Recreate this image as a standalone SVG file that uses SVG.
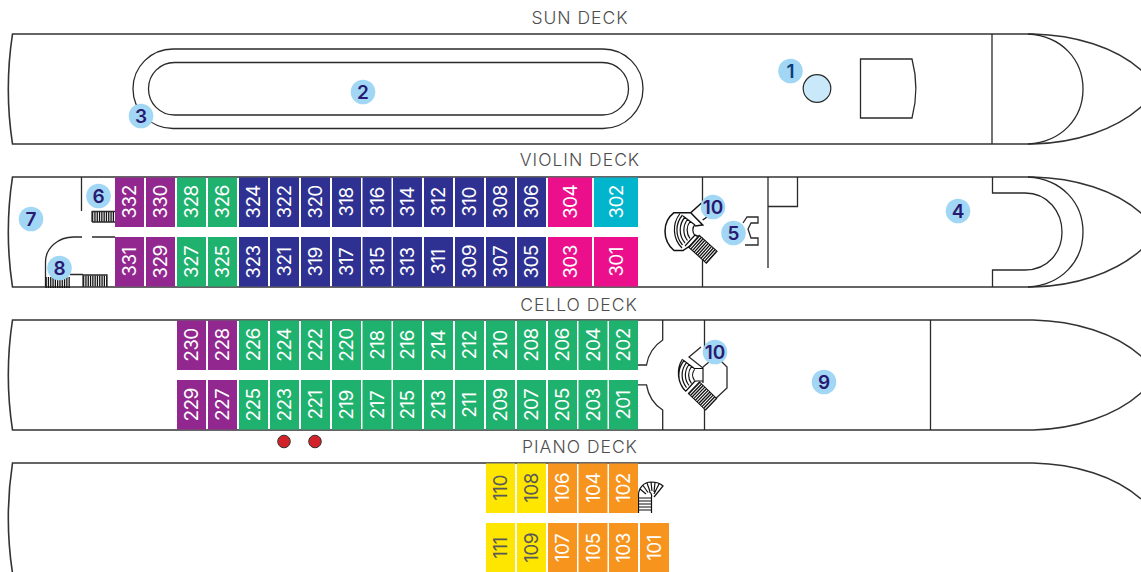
<svg xmlns="http://www.w3.org/2000/svg" width="1141" height="572" viewBox="0 0 1141 572">
<style>
.l{fill:none;stroke:#2a2a2a;stroke-width:1.3}
.h{fill:none;stroke:#333;stroke-width:1.6}
.dk{font-family:Inter,"Liberation Sans",sans-serif;font-size:17.500px;font-weight:300;letter-spacing:1px;fill:#4d4d4d;text-anchor:middle}
.c{font-family:Inter,"Liberation Sans",sans-serif;font-size:19px;letter-spacing:-.6px;font-weight:400;fill:#fff;text-anchor:middle;dominant-baseline:central}
.y{fill:#58595b}
.b circle{fill:#a1d7f5}
.b text{font-family:Inter,"Liberation Sans",sans-serif;font-size:19px;font-weight:600;fill:#281a70;text-anchor:middle;dominant-baseline:central}
.pu{fill:#92278f}.gr{fill:#1fb16e}.nv{fill:#2e3192}.pk{fill:#ec0f8c}.te{fill:#00b5cc}.or{fill:#f7941e}.ye{fill:#ffe600}
.st{fill:none;stroke:#111;stroke-dasharray:1.3 1}
.f{fill:none;stroke:#111;stroke-width:1.2}
</style>
<rect width="1141" height="572" fill="#fff"/>
<g id="deck-labels">
<text class="dk" x="580" y="24">SUN DECK</text>
<text class="dk" x="580" y="166">VIOLIN DECK</text>
<text class="dk" x="579" y="311">CELLO DECK</text>
<text class="dk" x="580" y="453">PIANO DECK</text>
</g>
<g id="sun-deck">
<path class="h" d="M1033 34H12.500C7 70 7 108 12.500 144H1033C1075 143 1115 130 1141 107C1146 101 1150 96 1152 89C1150 82 1146 76 1141 70C1115 47 1075 35 1033 34Z"/>
<path class="l" d="M992 34V144M1028 34C1062 36 1083 60 1083 89C1083 118 1062 142 1028 144"/>
<rect class="l" x="133" y="49" width="510" height="79.500" rx="40"/>
<rect class="l" x="148.500" y="62.500" width="480" height="52.500" rx="26"/>
<circle cx="817" cy="88.500" r="13.800" fill="#c9e9fa" stroke="#2a2a2a" stroke-width="1.2"/>
<path class="l" d="M860.500 59H912C917 78 917 99 912 118H860.500Z"/>
</g>
<g id="violin-deck">
<path class="h" d="M1033 177H12.500C7 213 7 251 12.500 287H1033C1075 286 1115 273 1141 250C1146 244 1150 239 1152 232C1150 225 1146 219 1141 213C1115 190 1075 178 1033 177Z"/>
<path class="l" d="M1028 177C1062 179 1083 203 1083 232C1083 261 1062 285 1028 287"/>
<path class="l" d="M992.500 177V193H1025C1048 193 1062 212 1062 232C1062 252 1048 270 1025 270H992.500V287"/>
<path class="l" d="M81.500 177V211M115 237H92M82 237H74C58 237 45.500 248 45.500 262V287M70 274.500H83"/>
<path class="st" stroke-width="11" d="M92 216.500H115M45.500 282.500H70M83 281H107"/>
<path class="l" d="M92 211.500H115M92 222H115M92 211V222M83 275H107V287M83 275V287"/>
<path class="l" d="M702.500 177V203M702.500 260V287M768 177V268M768 206.500H797.500V177"/>
<path fill="none" stroke="#111" stroke-width="1.500" d="M701.500 203L690.700 212.700H674C662 222 662 240 674 250.500H683L701.500 238L695 235M690.700 212.700L702.700 225L695 226M702.700 220L710 215"/>
<path class="f" d="M695 224.500A8 8 0 0 0 695 235.500M690 221.500A14 14 0 0 0 690 238.500M687.500 219.500A17 17 0 0 0 687.500 240.500M685 217A20 20 0 0 0 685 243M682.500 215A23 23 0 0 0 682.500 245M680 213.500A26 26 0 0 0 682 248M683 216L695 225M685 246L695 235"/>
<g transform="translate(702.800 249.200) rotate(42)"><rect x="-12" y="-8" width="24" height="16" fill="#fff" stroke="#111" stroke-width="1"/><path class="st" stroke-width="16" d="M-12 0H12"/></g>
<path class="l" d="M743 223L747 217H758V223H751L748 229L751 238H758V245H745"/>
</g>
<g id="cello-deck">
<path class="h" d="M1033 320H12.500C7 356 7 394 12.500 430H1033C1075 429 1115 416 1141 393C1146 387 1150 382 1152 375C1150 368 1146 362 1141 356C1115 333 1075 321 1033 320Z"/>
<path class="l" d="M930.500 320V430"/>
<path class="l" d="M662.700 320V340C652 347 648 356 646.500 365H637.700M637.700 384.800H646.500C648 394 652 403 662.700 410V430"/>
<path class="l" d="M704.500 320V347M701 347L689 357L703 368V383M703 367L709 362M720 360L727 367V388L704.500 409V430"/>
<path class="f" d="M694.500 369.500A9 9 0 0 0 694.500 380.500M691.500 366.500A14 14 0 0 0 691.500 383.500M689 364.500A17 17 0 0 0 689 385.500M686.500 362.500A20 20 0 0 0 686.500 387.500M684 360.500A23 23 0 0 0 684 389.500M682.500 359A26 26 0 0 0 686 391.500M683 360L695 369M686 391L695 381M695 368.500H703M695 381H703"/>
<g transform="translate(702.500 396) rotate(44)"><rect x="-12" y="-8" width="24" height="16" fill="#fff" stroke="#111" stroke-width="1"/><path class="st" stroke-width="16" d="M-12 0H12"/></g>
</g>
<g id="piano-deck">
<path class="h" d="M12.500 573C7 537 7 499 12.500 463H1033C1075 464 1115 476 1141 499"/>
<path class="f" d="M638.500 513V495C638.500 488 644 482 651 482C656 482 660 483 663 486L654 497M651.500 513V497A5 5 0 0 0 649 491.500M638.500 498H651.500M638.500 501H651.500M638.500 504H651.500M638.500 507H651.500M638.500 510H651.500M640 489L646 494M643 485.500L648 492.500M647 483L650 491.500M651 482L652 491M655 482.500L654 492M659 484L654 494"/>
</g>
<g id="markers">
<circle cx="284" cy="441.500" r="6.300" fill="#d2232a" stroke="#333" stroke-width="1"/>
<circle cx="315" cy="441.500" r="6.300" fill="#d2232a" stroke="#333" stroke-width="1"/>
</g>
<g id="violin-cabins">
<g id="c332"><rect class="pu" x="115" y="177.500" width="29" height="49.500"/><text class="c" transform="translate(129.500 202) rotate(-90)">332</text></g>
<g id="c330"><rect class="pu" x="146" y="177.500" width="29" height="49.500"/><text class="c" transform="translate(160.500 202) rotate(-90)">330</text></g>
<g id="c328"><rect class="gr" x="177" y="177.500" width="29" height="49.500"/><text class="c" transform="translate(191.500 202) rotate(-90)">328</text></g>
<g id="c326"><rect class="gr" x="208" y="177.500" width="29" height="49.500"/><text class="c" transform="translate(222.500 202) rotate(-90)">326</text></g>
<g id="c324"><rect class="nv" x="239" y="177.500" width="29" height="49.500"/><text class="c" transform="translate(253.500 202) rotate(-90)">324</text></g>
<g id="c322"><rect class="nv" x="270" y="177.500" width="29" height="49.500"/><text class="c" transform="translate(284.500 202) rotate(-90)">322</text></g>
<g id="c320"><rect class="nv" x="301" y="177.500" width="29" height="49.500"/><text class="c" transform="translate(315.500 202) rotate(-90)">320</text></g>
<g id="c318"><rect class="nv" x="332" y="177.500" width="29" height="49.500"/><text class="c" transform="translate(346.500 202) rotate(-90)">318</text></g>
<g id="c316"><rect class="nv" x="362.500" y="177.500" width="29" height="49.500"/><text class="c" transform="translate(377 202) rotate(-90)">316</text></g>
<g id="c314"><rect class="nv" x="393" y="177.500" width="29" height="49.500"/><text class="c" transform="translate(407.500 202) rotate(-90)">314</text></g>
<g id="c312"><rect class="nv" x="424" y="177.500" width="29" height="49.500"/><text class="c" transform="translate(438.500 202) rotate(-90)">312</text></g>
<g id="c310"><rect class="nv" x="455" y="177.500" width="29" height="49.500"/><text class="c" transform="translate(469.500 202) rotate(-90)">310</text></g>
<g id="c308"><rect class="nv" x="486" y="177.500" width="29" height="49.500"/><text class="c" transform="translate(500.500 202) rotate(-90)">308</text></g>
<g id="c306"><rect class="nv" x="517" y="177.500" width="29" height="49.500"/><text class="c" transform="translate(531.500 202) rotate(-90)">306</text></g>
<g id="c304"><rect class="pk" x="548" y="177.500" width="44" height="49.500"/><text class="c" transform="translate(570 202) rotate(-90)">304</text></g>
<g id="c302"><rect class="te" x="594" y="177.500" width="44" height="49.500"/><text class="c" transform="translate(616 202) rotate(-90)">302</text></g>
<g id="c331"><rect class="pu" x="115" y="237" width="29" height="49.500"/><text class="c" transform="translate(129.500 262) rotate(-90)">331</text></g>
<g id="c329"><rect class="pu" x="146" y="237" width="29" height="49.500"/><text class="c" transform="translate(160.500 262) rotate(-90)">329</text></g>
<g id="c327"><rect class="gr" x="177" y="237" width="29" height="49.500"/><text class="c" transform="translate(191.500 262) rotate(-90)">327</text></g>
<g id="c325"><rect class="gr" x="208" y="237" width="29" height="49.500"/><text class="c" transform="translate(222.500 262) rotate(-90)">325</text></g>
<g id="c323"><rect class="nv" x="239" y="237" width="29" height="49.500"/><text class="c" transform="translate(253.500 262) rotate(-90)">323</text></g>
<g id="c321"><rect class="nv" x="270" y="237" width="29" height="49.500"/><text class="c" transform="translate(284.500 262) rotate(-90)">321</text></g>
<g id="c319"><rect class="nv" x="301" y="237" width="29" height="49.500"/><text class="c" transform="translate(315.500 262) rotate(-90)">319</text></g>
<g id="c317"><rect class="nv" x="332" y="237" width="29" height="49.500"/><text class="c" transform="translate(346.500 262) rotate(-90)">317</text></g>
<g id="c315"><rect class="nv" x="362.500" y="237" width="29" height="49.500"/><text class="c" transform="translate(377 262) rotate(-90)">315</text></g>
<g id="c313"><rect class="nv" x="393" y="237" width="29" height="49.500"/><text class="c" transform="translate(407.500 262) rotate(-90)">313</text></g>
<g id="c311"><rect class="nv" x="424" y="237" width="29" height="49.500"/><text class="c" transform="translate(438.500 262) rotate(-90)">311</text></g>
<g id="c309"><rect class="nv" x="455" y="237" width="29" height="49.500"/><text class="c" transform="translate(469.500 262) rotate(-90)">309</text></g>
<g id="c307"><rect class="nv" x="486" y="237" width="29" height="49.500"/><text class="c" transform="translate(500.500 262) rotate(-90)">307</text></g>
<g id="c305"><rect class="nv" x="517" y="237" width="29" height="49.500"/><text class="c" transform="translate(531.500 262) rotate(-90)">305</text></g>
<g id="c303"><rect class="pk" x="548" y="237" width="44" height="49.500"/><text class="c" transform="translate(570 262) rotate(-90)">303</text></g>
<g id="c301"><rect class="pk" x="594" y="237" width="44" height="49.500"/><text class="c" transform="translate(616 262) rotate(-90)">301</text></g>
</g>
<g id="cello-cabins">
<g id="c230"><rect class="pu" x="177" y="320.500" width="29" height="49.500"/><text class="c" transform="translate(191.500 345) rotate(-90)">230</text></g>
<g id="c228"><rect class="pu" x="208" y="320.500" width="29" height="49.500"/><text class="c" transform="translate(222.500 345) rotate(-90)">228</text></g>
<g id="c226"><rect class="gr" x="239" y="320.500" width="29" height="49.500"/><text class="c" transform="translate(253.500 345) rotate(-90)">226</text></g>
<g id="c224"><rect class="gr" x="270" y="320.500" width="29" height="49.500"/><text class="c" transform="translate(284.500 345) rotate(-90)">224</text></g>
<g id="c222"><rect class="gr" x="301" y="320.500" width="29" height="49.500"/><text class="c" transform="translate(315.500 345) rotate(-90)">222</text></g>
<g id="c220"><rect class="gr" x="332" y="320.500" width="29" height="49.500"/><text class="c" transform="translate(346.500 345) rotate(-90)">220</text></g>
<g id="c218"><rect class="gr" x="362.500" y="320.500" width="29" height="49.500"/><text class="c" transform="translate(377 345) rotate(-90)">218</text></g>
<g id="c216"><rect class="gr" x="393" y="320.500" width="29" height="49.500"/><text class="c" transform="translate(407.500 345) rotate(-90)">216</text></g>
<g id="c214"><rect class="gr" x="424" y="320.500" width="29" height="49.500"/><text class="c" transform="translate(438.500 345) rotate(-90)">214</text></g>
<g id="c212"><rect class="gr" x="455" y="320.500" width="29" height="49.500"/><text class="c" transform="translate(469.500 345) rotate(-90)">212</text></g>
<g id="c210"><rect class="gr" x="486" y="320.500" width="29" height="49.500"/><text class="c" transform="translate(500.500 345) rotate(-90)">210</text></g>
<g id="c208"><rect class="gr" x="517" y="320.500" width="29" height="49.500"/><text class="c" transform="translate(531.500 345) rotate(-90)">208</text></g>
<g id="c206"><rect class="gr" x="548" y="320.500" width="29" height="49.500"/><text class="c" transform="translate(562.500 345) rotate(-90)">206</text></g>
<g id="c204"><rect class="gr" x="578.500" y="320.500" width="29" height="49.500"/><text class="c" transform="translate(593 345) rotate(-90)">204</text></g>
<g id="c202"><rect class="gr" x="609" y="320.500" width="29" height="49.500"/><text class="c" transform="translate(623.500 345) rotate(-90)">202</text></g>
<g id="c229"><rect class="pu" x="177" y="380" width="29" height="49.500"/><text class="c" transform="translate(191.500 405) rotate(-90)">229</text></g>
<g id="c227"><rect class="pu" x="208" y="380" width="29" height="49.500"/><text class="c" transform="translate(222.500 405) rotate(-90)">227</text></g>
<g id="c225"><rect class="gr" x="239" y="380" width="29" height="49.500"/><text class="c" transform="translate(253.500 405) rotate(-90)">225</text></g>
<g id="c223"><rect class="gr" x="270" y="380" width="29" height="49.500"/><text class="c" transform="translate(284.500 405) rotate(-90)">223</text></g>
<g id="c221"><rect class="gr" x="301" y="380" width="29" height="49.500"/><text class="c" transform="translate(315.500 405) rotate(-90)">221</text></g>
<g id="c219"><rect class="gr" x="332" y="380" width="29" height="49.500"/><text class="c" transform="translate(346.500 405) rotate(-90)">219</text></g>
<g id="c217"><rect class="gr" x="362.500" y="380" width="29" height="49.500"/><text class="c" transform="translate(377 405) rotate(-90)">217</text></g>
<g id="c215"><rect class="gr" x="393" y="380" width="29" height="49.500"/><text class="c" transform="translate(407.500 405) rotate(-90)">215</text></g>
<g id="c213"><rect class="gr" x="424" y="380" width="29" height="49.500"/><text class="c" transform="translate(438.500 405) rotate(-90)">213</text></g>
<g id="c211"><rect class="gr" x="455" y="380" width="29" height="49.500"/><text class="c" transform="translate(469.500 405) rotate(-90)">211</text></g>
<g id="c209"><rect class="gr" x="486" y="380" width="29" height="49.500"/><text class="c" transform="translate(500.500 405) rotate(-90)">209</text></g>
<g id="c207"><rect class="gr" x="517" y="380" width="29" height="49.500"/><text class="c" transform="translate(531.500 405) rotate(-90)">207</text></g>
<g id="c205"><rect class="gr" x="548" y="380" width="29" height="49.500"/><text class="c" transform="translate(562.500 405) rotate(-90)">205</text></g>
<g id="c203"><rect class="gr" x="578.500" y="380" width="29" height="49.500"/><text class="c" transform="translate(593 405) rotate(-90)">203</text></g>
<g id="c201"><rect class="gr" x="609" y="380" width="29" height="49.500"/><text class="c" transform="translate(623.500 405) rotate(-90)">201</text></g>
</g>
<g id="piano-cabins">
<g id="c110"><rect class="ye" x="486" y="463.500" width="29" height="49.500"/><text class="c y" transform="translate(500.500 488) rotate(-90)">110</text></g>
<g id="c108"><rect class="ye" x="517" y="463.500" width="29" height="49.500"/><text class="c y" transform="translate(531.500 488) rotate(-90)">108</text></g>
<g id="c106"><rect class="or" x="548" y="463.500" width="29" height="49.500"/><text class="c" transform="translate(562.500 488) rotate(-90)">106</text></g>
<g id="c104"><rect class="or" x="578.500" y="463.500" width="29" height="49.500"/><text class="c" transform="translate(593 488) rotate(-90)">104</text></g>
<g id="c102"><rect class="or" x="609" y="463.500" width="29" height="49.500"/><text class="c" transform="translate(623.500 488) rotate(-90)">102</text></g>
<g id="c111"><rect class="ye" x="486" y="523" width="29" height="49"/><text class="c y" transform="translate(500.500 548) rotate(-90)">111</text></g>
<g id="c109"><rect class="ye" x="517" y="523" width="29" height="49"/><text class="c y" transform="translate(531.500 548) rotate(-90)">109</text></g>
<g id="c107"><rect class="or" x="548" y="523" width="29" height="49"/><text class="c" transform="translate(562.500 548) rotate(-90)">107</text></g>
<g id="c105"><rect class="or" x="578.500" y="523" width="29" height="49"/><text class="c" transform="translate(593 548) rotate(-90)">105</text></g>
<g id="c103"><rect class="or" x="609" y="523" width="29" height="49"/><text class="c" transform="translate(623.500 548) rotate(-90)">103</text></g>
<g id="c101"><rect class="or" x="640" y="523" width="29" height="49"/><text class="c" transform="translate(654.500 548) rotate(-90)">101</text></g>
</g>
<g id="badges">
<g id="b1" class="b"><circle cx="790.500" cy="71" r="12.300"/><text x="790.500" y="71" style="fill:#0c3d78">1</text></g>
<g id="b2" class="b"><circle cx="363" cy="92" r="12.300"/><text x="363" y="92">2</text></g>
<g id="b3" class="b"><circle cx="141" cy="116" r="12.300"/><text x="141" y="116">3</text></g>
<g id="b4" class="b"><circle cx="958" cy="211" r="12.300"/><text x="958" y="211">4</text></g>
<g id="b5" class="b"><circle cx="733.500" cy="233" r="12.300"/><text x="733.500" y="233">5</text></g>
<g id="b6" class="b"><circle cx="98.500" cy="196" r="12.300"/><text x="98.500" y="196">6</text></g>
<g id="b7" class="b"><circle cx="31" cy="219" r="12.300"/><text x="31" y="219">7</text></g>
<g id="b8" class="b"><circle cx="59.500" cy="268" r="12.300"/><text x="59.500" y="268">8</text></g>
<g id="b9" class="b"><circle cx="824" cy="382" r="12.300"/><text x="824" y="382">9</text></g>
<g id="b10a" class="b"><circle cx="713" cy="207" r="12.300"/><text x="713" y="207">10</text></g>
<g id="b10b" class="b"><circle cx="715" cy="352" r="12.300"/><text x="715" y="352">10</text></g>
</g>
</svg>
